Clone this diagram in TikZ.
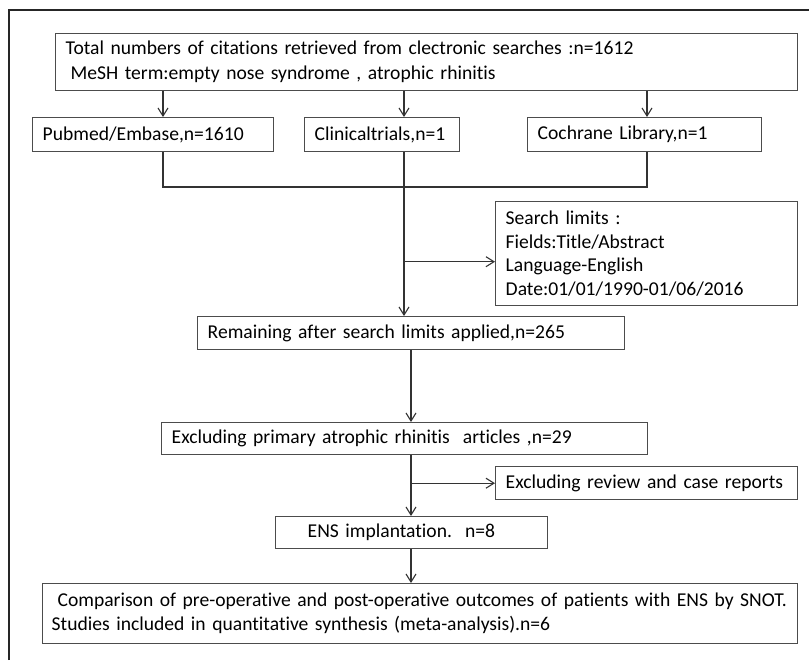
\documentclass[tikz,border=0pt]{standalone}
\usepackage{fontspec}
\setmainfont{Carlito}[Ligatures=NoCommon]
\usepackage{tikz}
\usetikzlibrary{arrows.meta}

\begin{document}
\begin{tikzpicture}[x=0.5pt, y=-0.5pt,
    >={Straight Barb[length=4pt,width=5pt]},
    every node/.style={font=\fontsize{9.8pt}{12pt}\selectfont},
    box/.style={draw=black!70, line width=0.7pt, anchor=north west,
        inner xsep=5pt, inner ysep=0pt, align=left},
    link/.style={draw=black!80, line width=0.55pt},
    frame/.style={draw=black!85, line width=1.1pt}]
    \useasboundingbox (0,0) rectangle (809,660);
    \draw [frame] (9,660) -- (9,10) -- (809,10);
    % boxes
    \node [box, text width=361pt, minimum height=28.5pt,
        font=\fontsize{9.8pt}{12.5pt}\selectfont] (total) at (55,33)
        {\mbox{Total numbers of citations retrieved from clectronic searches :n=1612}\\
         \mbox{\hspace{0.25em}MeSH term:empty nose syndrome , atrophic rhinitis}};
    \node [box, text width=110.5pt, minimum height=17pt] (pubmed) at (32,117) {\mbox{Pubmed/Embase,n=1610}};
    \node [box, text width=67.5pt, minimum height=17pt] (clinical) at (304,117) {\mbox{Clinicaltrials,n=1}};
    \node [box, text width=107pt, minimum height=17pt] (cochrane) at (527,117) {\mbox{Cochrane Library,n=1}};
    \node [box, text width=141pt, minimum height=52pt,
        font=\fontsize{9.8pt}{11.7pt}\selectfont] (limits) at (495,201)
        {Search limits :\\ Fields:Title/Abstract\\ Language-English\\ \mbox{Date:01/01/1990-01/06/2016}};
    \node [box, text width=203.5pt, minimum height=16.5pt] (remaining) at (197,316) {\mbox{Remaining after search limits applied,n=265}};
    \node [box, text width=233pt, minimum height=16pt] (exclprim) at (161,422) {\mbox{Excluding primary atrophic rhinitis\ \ articles ,n=29}};
    \node [box, text width=141pt, minimum height=16.5pt] (exclrev) at (495,466) {\mbox{Excluding review and case reports}};
    \node [box, text width=104pt, minimum height=16pt, inner xsep=16pt] (ens) at (275,516) {\mbox{ENS implantation.\ \ n=8}};
    \node [box, text width=368.5pt, minimum height=30pt, inner xsep=4.5pt] (final) at (42,583)
        {\mbox{\hspace{0.3em}Comparison of pre-operative and post-operative outcomes of patients with ENS by SNOT.}\\
         \mbox{Studies included in quantitative synthesis (meta-analysis).n=6}};
    % columns of the connectors
    \coordinate (c1) at (163,0);
    \coordinate (c2) at (404,0);
    \coordinate (c3) at (647,0);
    \coordinate (cm) at (411,0);
    \coordinate (join) at (404,187);
    \coordinate (lim) at ([yshift=-4pt]limits.west);
    % connectors
    \draw [link, ->] (total.south -| c1) -- (pubmed.north -| c1);
    \draw [link, ->] (total.south -| c2) -- (clinical.north -| c2);
    \draw [link, ->] (total.south -| c3) -- (cochrane.north -| c3);
    \draw [link] (pubmed.south -| c1) -- (c1 |- join) -- (c3 |- join) -- (cochrane.south -| c3);
    \draw [link] (clinical.south -| c2) -- (join);
    \draw [link, ->] (join) -- (remaining.north -| c2);
    \draw [link, ->] (c2 |- lim) -- (lim);
    \draw [link, ->] (remaining.south -| cm) -- (exclprim.north -| cm);
    \draw [link, ->] (exclprim.south -| cm) -- (ens.north -| cm);
    \draw [link, ->] (cm |- exclrev.west) -- (exclrev.west);
    \draw [link, ->] (ens.south -| cm) -- (final.north -| cm);
\end{tikzpicture}
\end{document}
